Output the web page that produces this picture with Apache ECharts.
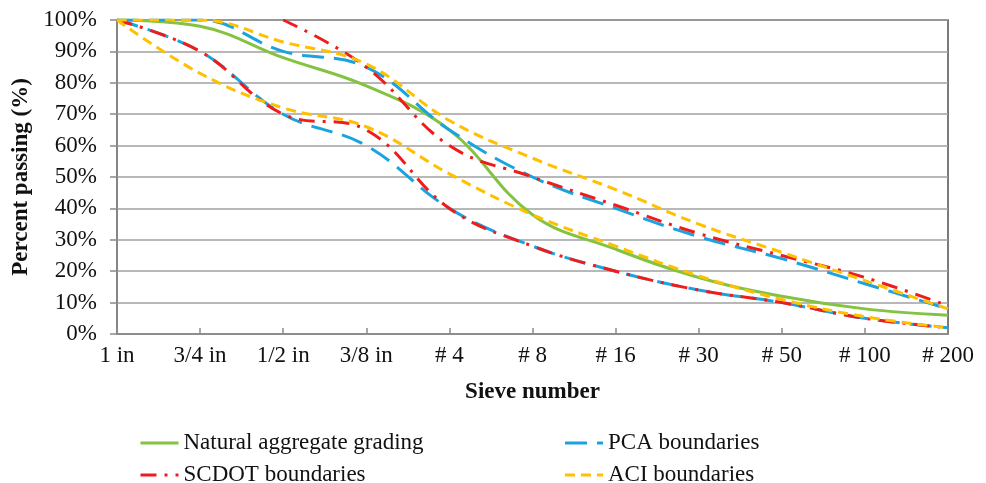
<!DOCTYPE html>
<html lang="en">
<head>
    <meta charset="UTF-8">
    <title>Sieve analysis</title>
    <style>
        html, body { margin: 0; padding: 0; background: #fff; }
        #main { width: 986px; height: 483px; }
    </style>
    <script src="https://cdn.jsdelivr.net/npm/echarts@6/dist/echarts.min.js"></script>
</head>
<body>
<div id="main"></div>
<script>
// sieve sizes along the x axis
var sieves = ['1 in', '3/4 in', '1/2 in', '3/8 in', '# 4', '# 8', '# 16', '# 30', '# 50', '# 100', '# 200'];

// percent passing
var natural    = [100, 98, 88, 79, 65, 38, 27, 18, 12, 8, 6];
var pcaUpper   = [100, 100, 90, 85, 65, 50, 40, 31, 24, 16, 8];
var pcaLower   = [100, 90, 70, 60, 40, 28, 20, 14, 10, 5, 2];
var scdotUpper = [null, null, 100, 85, 60, 50, 41, 32, 25, 18, 9];
var scdotLower = [100, 90, 70, 65, 40, 28, 20, 14, 10, 5, 2];
var aciUpper   = [100, 100, 93, 86, 68, 56, 46, 35, 26, 17, 8];
var aciLower   = [100, 83, 72, 66, 51, 38, 28, 18.5, 11, 5.5, 2];

var FONT = "'Liberation Serif', 'Times New Roman', serif";
var GREEN = '#84c341', BLUE = '#1ba3e0', RED = '#f01c1c', GOLD = '#ffc000';

function line(name, data, color, dash) {
    return {
        name: name,
        type: 'line',
        data: data,
        smooth: 0.4,
        symbol: 'none',
        color: color,
        lineStyle: { color: color, width: 3, type: dash }
    };
}

var myChart = echarts.init(document.getElementById('main'));
var option = {
    animation: false,
    textStyle: { fontFamily: FONT },
    grid: {
        left: 117, right: 38, top: 20, bottom: 149,
        show: true, borderColor: '#505050', borderWidth: 1.5
    },
    legend: {
        left: 134, top: 426, width: 860,
        itemWidth: 38, itemHeight: 14, itemGap: 8,
        itemStyle: { opacity: 0 },
        lineStyle: { width: 3 },
        data: ['Natural aggregate grading', 'PCA boundaries', 'SCDOT boundaries', 'ACI boundaries'],
        textStyle: { fontFamily: FONT, fontSize: 23, color: '#111', width: 372, lineHeight: 24 }
    },
    xAxis: {
        type: 'category',
        data: sieves,
        boundaryGap: false,
        name: 'Sieve number',
        nameLocation: 'middle',
        nameGap: 47,
        nameTextStyle: { fontFamily: FONT, fontSize: 23, fontWeight: 'bold', color: '#111' },
        axisLine: { lineStyle: { color: '#8a8a8a', width: 1.5 } },
        axisTick: { inside: true, length: 6, lineStyle: { color: '#8a8a8a', width: 1.5 } },
        axisLabel: { fontFamily: FONT, fontSize: 23, color: '#111', margin: 10 },
        splitLine: { show: false }
    },
    yAxis: {
        type: 'value',
        min: 0, max: 100, interval: 10,
        name: 'Percent passing (%)',
        nameLocation: 'middle',
        nameGap: 83,
        nameTextStyle: { fontFamily: FONT, fontSize: 23, fontWeight: 'bold', color: '#111' },
        axisLine: { show: true, lineStyle: { color: '#8a8a8a', width: 1.5 } },
        axisTick: { show: true, length: 7, lineStyle: { color: '#8a8a8a', width: 1.5 } },
        axisLabel: { fontFamily: FONT, fontSize: 23, color: '#111', margin: 20, formatter: '{value}%' },
        splitLine: { lineStyle: { color: '#a0a0a0', width: 1.5 } }
    },
    series: [
        line('Natural aggregate grading', natural, GREEN, 'solid'),
        line('PCA boundaries', pcaUpper, BLUE, [22, 10]),
        line('PCA boundaries', pcaLower, BLUE, [22, 10]),
        line('SCDOT boundaries', scdotUpper, RED, [16, 8, 3, 8]),
        line('SCDOT boundaries', scdotLower, RED, [16, 8, 3, 8]),
        line('ACI boundaries', aciUpper, GOLD, [10, 6]),
        line('ACI boundaries', aciLower, GOLD, [10, 6])
    ]
};
myChart.setOption(option);
</script>
</body>
</html>
